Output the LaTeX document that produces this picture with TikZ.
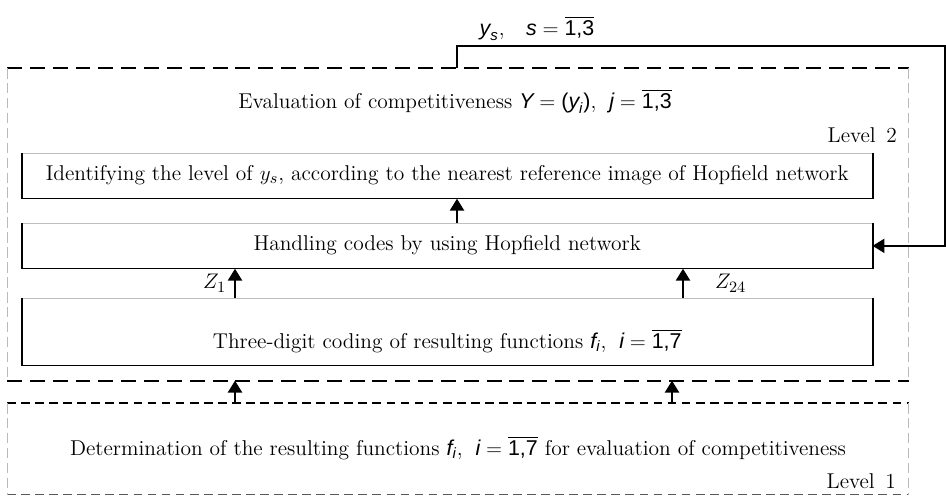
\documentclass[tikz,border=0pt]{standalone}
\usepackage{amsmath}
\usepackage{fontspec}
\usetikzlibrary{arrows.meta,positioning}

\newfontfamily\hvfont{Liberation Sans}
\newcommand{\hvit}[1]{\text{\hvfont\itshape #1}}
\newcommand{\hvup}[1]{\text{\hvfont #1}}

\begin{document}
\begin{tikzpicture}[
  x=0.02cm, y=-0.02cm,
  font=\fontsize{12.2}{14}\selectfont,
  block/.style={inner sep=0pt,anchor=north west,minimum width=17cm,
    minimum height=0.9cm,text height=0.54cm,text depth=0.36cm},
  frame/.style={inner sep=0pt,anchor=north west,minimum width=18.02cm},
  longdash/.style={line width=1.1pt,dash pattern=on 8.5pt off 4.5pt},
  shortdash/.style={line width=1.1pt,dash pattern=on 5pt off 3pt},
  sidedash/.style={gray!55,line width=0.45pt,dash pattern=on 6pt off 2.5pt},
  arrow/.style={-{Triangle[length=6.8pt,width=8pt]},line width=1.3pt}
]
\useasboundingbox (0,0) rectangle (946,495);

% the two levels
\node[frame,minimum height=6.24cm] (lvtwo) at (7,68) {};
\node[frame,minimum height=1.82cm] (lvone) at (7,403) {};

\draw[longdash] (lvtwo.north west) -- (lvtwo.north east);
\draw[longdash] (lvtwo.south west) -- (lvtwo.south east);
\draw[shortdash] (lvone.north west) -- (lvone.north east);
\draw[shortdash,gray!70!black,line width=0.6pt] (lvone.south west) -- (lvone.south east);
\foreach \lv in {lvtwo,lvone} {
  \draw[sidedash] (\lv.north west) -- (\lv.south west);
  \draw[sidedash] (\lv.north east) -- (\lv.south east);
}

\node[anchor=base] (evaltxt) at (455,108)
  {Evaluation of competitiveness $\hvit{Y} =\hvup{(}\hvit{y}_{\hvit{i}}\hvup{)}$,\; $\hvit{j} = \overline{\hvup{1,3}}$};
\node[anchor=base east] (lvtwotag) at (903,142) {Level\, 2};
\node[anchor=base] (determ) at (458,455)
  {Determination of the resulting functions $\hvit{f}_{\hvit{i}}$,\; $\hvit{i} = \overline{\hvup{1,7}}$ for evaluation of competitiveness};
\node[anchor=base east] (lvonetag) at (902,488) {Level\, 1};

% blocks of level 2
\node[block] (ident) at (22,153)
  {Identifying the level of $y_s$, according to the nearest reference image of Hopfield network};
\node[block] (hop) at (22,223) {Handling codes by using Hopfield network};
\node[block,minimum height=1.34cm,text height=1.0cm,text depth=0.34cm] (code) at (22,298)
  {Three-digit coding of resulting functions $\hvit{f}_{\hvit{i}}$,\; $\hvit{i} = \overline{\hvup{1,7}}$};

\foreach \b in {ident,hop,code} {
  \draw[gray!50,line width=0.5pt] (\b.north west) -- (\b.north east);
  \draw[line width=1.1pt] (\b.north west) -- (\b.south west);
  \draw[line width=1.1pt] (\b.north east) -- (\b.south east);
  \draw[line width=0.75pt] (\b.south west) -- (\b.south east);
}

% arrow columns
\coordinate (colA) at (235,0);
\coordinate (colB) at (672,0);
\coordinate (colC) at (683,0);
\coordinate (colD) at (457,0);

\draw[arrow] (lvone.north -| colA) -- (lvtwo.south -| colA);
\draw[arrow] (lvone.north -| colB) -- (lvtwo.south -| colB);
\draw[arrow] (code.north -| colA) -- node[left=1pt] {$Z_1$} (hop.south -| colA);
\draw[arrow] (code.north -| colC) -- node[right=0.5cm] {$Z_{24}$} (hop.south -| colC);
\draw[arrow] (hop.north -| colD) -- (ident.south -| colD);

% feedback of y_s into the Hopfield block
\coordinate (fbstart) at (457,68);
\coordinate (fbcorner) at (945,46);
\draw[arrow,line width=1.2pt] (fbstart) |- (fbcorner) |- (hop.east);
\node[anchor=base] (ysel) at (537,35)
  {$\hvit{y}_{\hvit{s}}$,\quad $\hvit{s} = \overline{\hvup{1,3}}$};
\end{tikzpicture}
\end{document}
